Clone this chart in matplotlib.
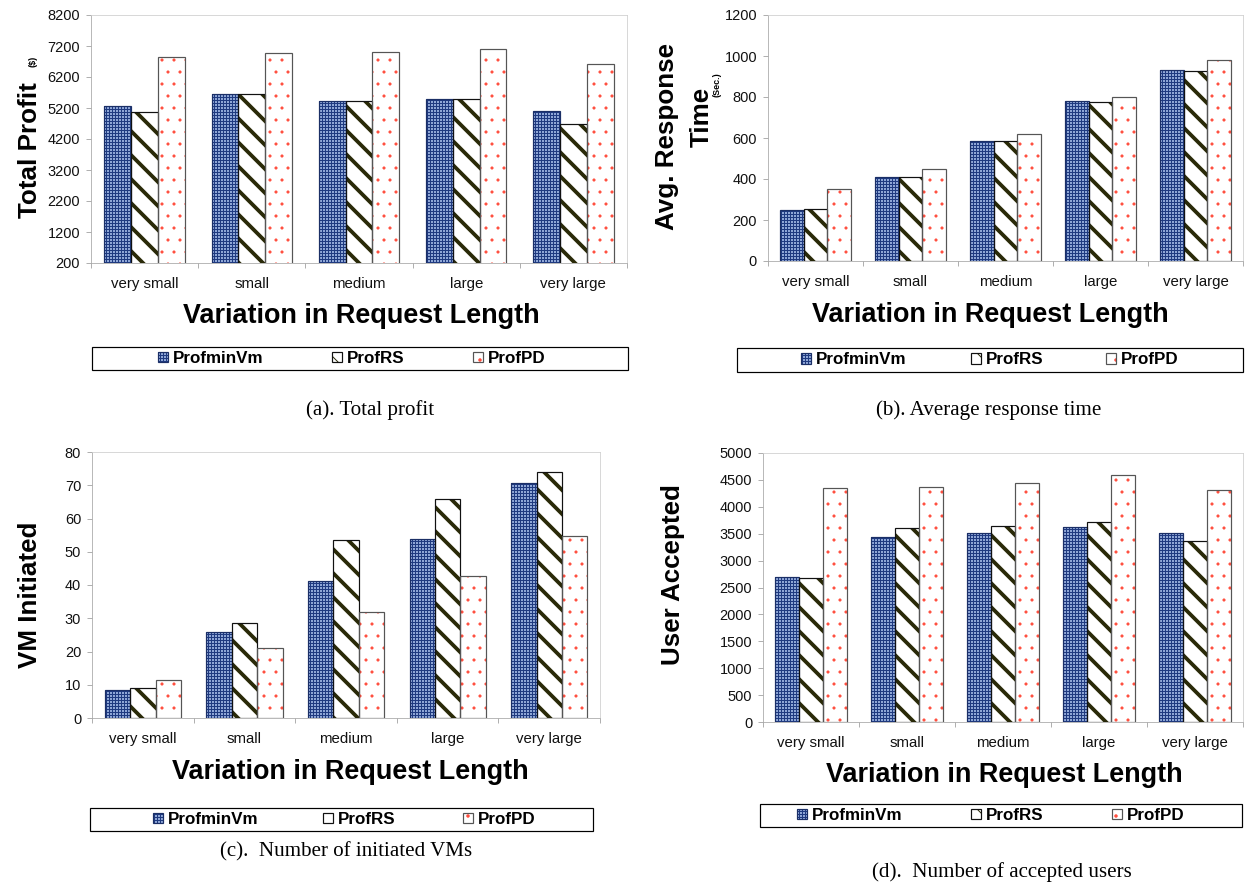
import matplotlib
matplotlib.use("Agg")
import matplotlib.pyplot as plt
import numpy as np
from matplotlib.patches import Rectangle

W, H, DPI = 1250, 884, 72

categories = ['very small', 'small', 'medium', 'large', 'very large']
series = ['ProfminVm', 'ProfRS', 'ProfPD']

profit_minvm = [5260, 5660, 5430, 5490, 5090]
profit_rs = [5080, 5650, 5430, 5490, 4700]
profit_pd = [6830, 6970, 7000, 7090, 6610]

resp_minvm = [251, 410, 584, 782, 933]
resp_rs = [256, 409, 587, 777, 928]
resp_pd = [349, 448, 621, 801, 981]

vm_minvm = [8.4, 25.8, 41.2, 53.9, 70.8]
vm_rs = [9.0, 28.6, 53.6, 65.9, 74.1]
vm_pd = [11.5, 21.0, 31.9, 42.7, 54.7]

users_minvm = [2700, 3440, 3510, 3630, 3510]
users_rs = [2670, 3600, 3640, 3720, 3370]
users_pd = [4350, 4370, 4440, 4590, 4310]

# face, hatch colour, hatch, hatch linewidth, outline
STYLES = [
    ('#8ea6d6', '#1f3a80', '++++', 1.0, '#1b2f66'),
    ('white', '#2a2a08', '\\', 3.8, '#111111'),
    ('white', '#ff4a3a', '.', 0.6, '#555555'),
]

plt.rcParams['font.family'] = ['Liberation Sans', 'DejaVu Sans']

fig = plt.figure(figsize=(W / DPI, H / DPI), dpi=DPI)


def px_axes(x0, y0, x1, y1):
    return fig.add_axes([x0 / W, 1 - y1 / H, (x1 - x0) / W, (y1 - y0) / H])


def bars(ax, data, ylim, yticks):
    x = np.arange(len(categories))
    handles = []
    for i, vals in enumerate(data):
        face, hc, hatch, hlw, edge = STYLES[i]
        with plt.rc_context({'hatch.linewidth': hlw}):
            b = ax.bar(x + (i - 1) * 0.25, vals, 0.25, color=face, edgecolor=hc,
                       hatch=hatch, linewidth=0, zorder=2)
        for p in b:
            if hasattr(p, 'set_hatch_linewidth'):
                p.set_hatch_linewidth(hlw)
        o = ax.bar(x + (i - 1) * 0.25, vals, 0.25, fill=False, edgecolor=edge,
                   linewidth=1.2, zorder=3)
        handles.append((b[0], o[0]))
    ax.set_xlim(-0.5, len(categories) - 0.5)
    ax.set_ylim(*ylim)
    ax.set_yticks(yticks)
    ax.set_xticks(x)
    ax.set_xticklabels(categories)
    ax.set_xticks(np.arange(-0.5, len(categories)), minor=True)
    ax.tick_params(axis='x', which='major', length=0, pad=14, labelsize=15,
                   labelcolor='#111111')
    ax.tick_params(axis='x', which='minor', length=5, color='#b0b0b0', width=1)
    ax.tick_params(axis='y', length=5, color='#b0b0b0', width=1, pad=6,
                   labelsize=14.5, labelcolor='#111111')
    for s in ['top', 'right']:
        ax.spines[s].set_color('#cfcfcf')
    for s in ['left', 'bottom']:
        ax.spines[s].set_color('#a8a8a8')
    return handles


def legend_box(handles, x0, y0, x1, y1, xs):
    fig.patches.append(Rectangle((x0 / W, 1 - y1 / H), (x1 - x0) / W, (y1 - y0) / H,
                                 transform=fig.transFigure, fill=False,
                                 edgecolor='black', linewidth=1.2))
    yc = (y0 + y1) / 2
    for h, name, xh in zip(handles, series, xs):
        fig.legend([h], [name], loc='center left', bbox_to_anchor=(xh / W, 1 - yc / H),
                   frameon=False, borderpad=0, borderaxespad=0, handlelength=0.6,
                   handleheight=0.6, handletextpad=0.25,
                   prop={'weight': 'bold', 'size': 17})


def ytitle(x, y, text, size=26):
    fig.text(x / W, 1 - y / H, text, rotation=90, ha='center', va='center',
             fontsize=size, fontweight='bold')


def xtitle(x, y):
    fig.text(x / W, 1 - y / H, 'Variation in Request Length', ha='center',
             va='center', fontsize=27, fontweight='bold')


def caption(x, y, text):
    fig.text(x / W, 1 - y / H, text, ha='center', va='center', fontsize=21,
             family=['Liberation Serif', 'DejaVu Serif'])


# (a) total profit
ax = px_axes(91, 15, 627, 263)
h = bars(ax, [profit_minvm, profit_rs, profit_pd], (200, 8200), np.arange(200, 8201, 1000))
ytitle(30, 150, 'Total Profit')
ytitle(33, 61, '($)', size=9)
xtitle(361, 316)
legend_box(h, 92, 347, 628, 370, [158, 332, 473])
caption(370, 410, '(a). Total profit')

# (b) average response time
ax = px_axes(768, 15, 1243, 261)
h = bars(ax, [resp_minvm, resp_rs, resp_pd], (0, 1200), np.arange(0, 1201, 200))
ytitle(667, 136, 'Avg. Response')
ytitle(702, 117, 'Time')
ytitle(717, 85, '(Sec.)', size=9)
xtitle(990, 315)
legend_box(h, 737, 348, 1243, 372, [801, 971, 1106])
caption(989, 410, '(b). Average response time')

# (c) number of initiated VMs
ax = px_axes(92, 452, 600, 718)
h = bars(ax, [vm_minvm, vm_rs, vm_pd], (0, 80), np.arange(0, 81, 10))
ytitle(30, 595, 'VM Initiated')
xtitle(350, 772)
legend_box(h, 90, 808, 593, 831, [153, 323, 463])
caption(346, 852, '(c).  Number of initiated VMs')

# (d) number of accepted users
ax = px_axes(763, 453, 1243, 722)
h = bars(ax, [users_minvm, users_rs, users_pd], (0, 5000), np.arange(0, 5001, 500))
ytitle(673, 575, 'User Accepted')
xtitle(1004, 775)
legend_box(h, 760, 804, 1242, 827, [797, 971, 1112])
caption(1002, 872, '(d).  Number of accepted users')

fig.savefig('out.png', dpi=DPI)
